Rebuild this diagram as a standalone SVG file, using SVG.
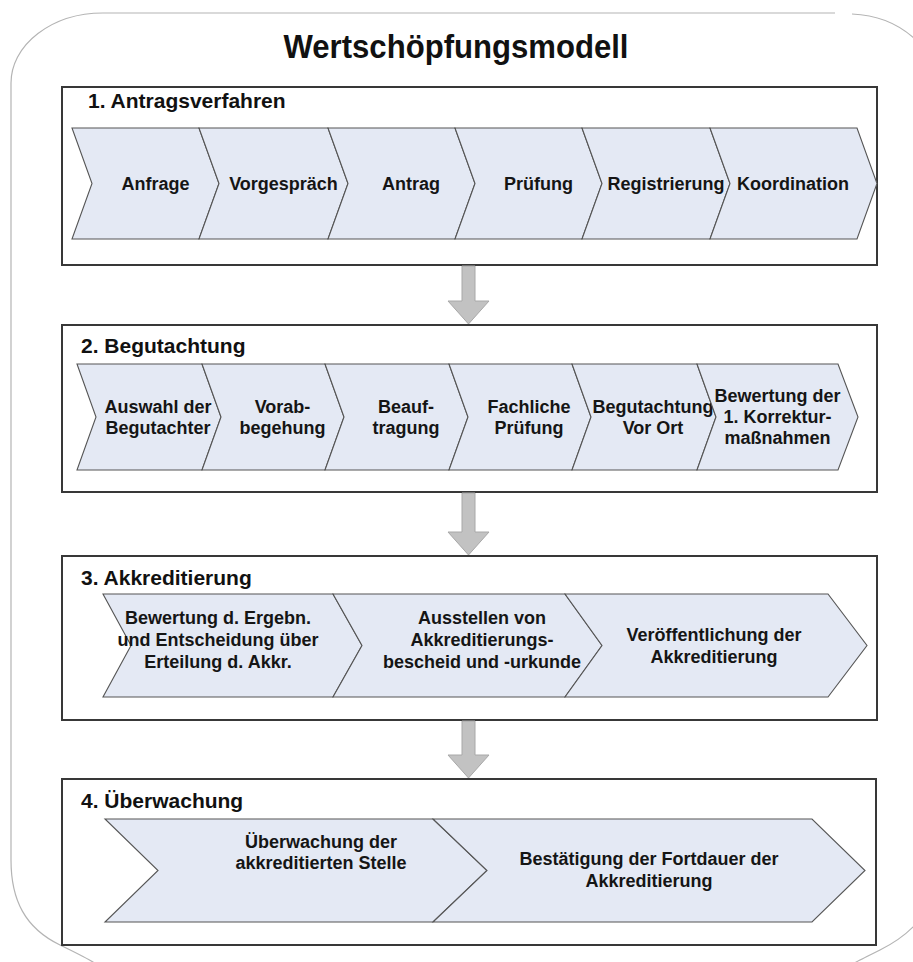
<svg xmlns="http://www.w3.org/2000/svg" width="913" height="962" viewBox="0 0 913 962">
  <style>
    .frame { fill: none; stroke: #b4b4b4; stroke-width: 1.2; }
    .panel { fill: #ffffff; stroke: #383838; stroke-width: 2; }
    .chev { fill: #e4e9f4; stroke: #555555; stroke-width: 1.1; stroke-linejoin: miter; }
    .flow { fill: #c2c2c2; stroke: #a8a8a8; stroke-width: 1; }
    .title { font-family: "Liberation Sans", Arial, sans-serif; font-weight: bold; font-size: 33px; fill: #111; text-anchor: middle; }
    .head { font-family: "Liberation Sans", Arial, sans-serif; font-weight: bold; font-size: 21px; fill: #111; }
    .t { font-family: "Liberation Sans", Arial, sans-serif; font-weight: bold; font-size: 18px; fill: #151515; text-anchor: middle; }
  </style>

  <rect width="913" height="962" fill="#ffffff"/>

  <!-- rounded outer frame -->
  <g id="frame" class="frame">
    <path d="M 11 83 A 92 70 0 0 1 103 13 L 835 13"/>
    <path d="M 852 14 A 92 80 0 0 1 940 95 L 940 860"/>
    <path d="M 11 83 L 11 860 C 11 900 25 928 60 945 S 85 958 100 966"/>
    <path d="M 940 860 C 940 900 920 930 880 950 S 860 960 850 966"/>
  </g>

  <text class="title" x="456" y="58" textLength="345" lengthAdjust="spacingAndGlyphs">Wertschöpfungsmodell</text>

  <!-- phase 1 -->
  <g id="phase1">
    <rect class="panel" x="62" y="87" width="815" height="178"/>
    <text class="head" x="88" y="108">1. Antragsverfahren</text>
    <g id="p1-anfrage">
      <polygon class="chev" points="72,128 199,128 219,183.5 199,239 72,239 92,183.5"/>
      <text class="t" x="155.5" y="190">Anfrage</text>
    </g>
    <g id="p1-vorgespraech">
      <polygon class="chev" points="199,128 328,128 348,183.5 328,239 199,239 219,183.5"/>
      <text class="t" x="283.5" y="190">Vorgespräch</text>
    </g>
    <g id="p1-antrag">
      <polygon class="chev" points="328,128 455,128 475,183.5 455,239 328,239 348,183.5"/>
      <text class="t" x="411" y="190">Antrag</text>
    </g>
    <g id="p1-pruefung">
      <polygon class="chev" points="455,128 582,128 602,183.5 582,239 455,239 475,183.5"/>
      <text class="t" x="538.5" y="190">Prüfung</text>
    </g>
    <g id="p1-registrierung">
      <polygon class="chev" points="582,128 710,128 730,183.5 710,239 582,239 602,183.5"/>
      <text class="t" x="666" y="190">Registrierung</text>
    </g>
    <g id="p1-koordination">
      <polygon class="chev" points="710,128 857,128 877,183.5 857,239 710,239 730,183.5"/>
      <text class="t" x="793" y="190">Koordination</text>
    </g>
  </g>

  <!-- phase 2 -->
  <g id="phase2">
    <rect class="panel" x="62" y="325" width="815" height="167"/>
    <text class="head" x="81" y="353">2. Begutachtung</text>
    <g id="p2-auswahl">
      <polygon class="chev" points="77,364 202,364 221,417 202,470 77,470 96,417"/>
      <text class="t" x="158" y="413">Auswahl der</text>
      <text class="t" x="158" y="434">Begutachter</text>
    </g>
    <g id="p2-vorab">
      <polygon class="chev" points="202,364 325,364 344,417 325,470 202,470 221,417"/>
      <text class="t" x="282.5" y="413">Vorab-</text>
      <text class="t" x="282.5" y="434">begehung</text>
    </g>
    <g id="p2-beauftragung">
      <polygon class="chev" points="325,364 449,364 468,417 449,470 325,470 344,417"/>
      <text class="t" x="406" y="413">Beauf-</text>
      <text class="t" x="406" y="434">tragung</text>
    </g>
    <g id="p2-fachlich">
      <polygon class="chev" points="449,364 572,364 591,417 572,470 449,470 468,417"/>
      <text class="t" x="529" y="413">Fachliche</text>
      <text class="t" x="529" y="434">Prüfung</text>
    </g>
    <g id="p2-vorort">
      <polygon class="chev" points="572,364 697,364 716,417 697,470 572,470 591,417"/>
      <text class="t" x="653" y="413">Begutachtung</text>
      <text class="t" x="653" y="434">Vor Ort</text>
    </g>
    <g id="p2-korrektur">
      <polygon class="chev" points="697,364 838,364 858,417 838,470 697,470 716,417"/>
      <text class="t" x="777.5" y="402">Bewertung der</text>
      <text class="t" x="777.5" y="423">1. Korrektur-</text>
      <text class="t" x="777.5" y="444">maßnahmen</text>
    </g>
  </g>

  <!-- phase 3 -->
  <g id="phase3">
    <rect class="panel" x="62" y="556" width="815" height="164"/>
    <text class="head" x="81" y="585">3. Akkreditierung</text>
    <g id="p3-entscheidung">
      <polygon class="chev" points="103,594 333,594 362,645.5 333,697 103,697 131,645.5"/>
      <text class="t" x="218" y="624">Bewertung d. Ergebn.</text>
      <text class="t" x="218" y="646">und Entscheidung über</text>
      <text class="t" x="218" y="668">Erteilung d. Akkr.</text>
    </g>
    <g id="p3-bescheid">
      <polygon class="chev" points="333,594 565,594 602,645.5 565,697 333,697 362,645.5"/>
      <text class="t" x="482" y="624">Ausstellen von</text>
      <text class="t" x="482" y="646">Akkreditierungs-</text>
      <text class="t" x="482" y="668">bescheid und -urkunde</text>
    </g>
    <g id="p3-veroeffentlichung">
      <polygon class="chev" points="565,594 828,594 867,645.5 828,697 565,697 602,645.5"/>
      <text class="t" x="714" y="641">Veröffentlichung der</text>
      <text class="t" x="714" y="663">Akkreditierung</text>
    </g>
  </g>

  <!-- phase 4 -->
  <g id="phase4">
    <rect class="panel" x="62" y="779" width="814" height="166"/>
    <text class="head" x="81" y="808">4. Überwachung</text>
    <g id="p4-ueberwachung">
      <polygon class="chev" points="105,819 433,819 487,870.5 433,922 105,922 158,870.5"/>
      <text class="t" x="321" y="848">Überwachung der</text>
      <text class="t" x="321" y="869">akkreditierten Stelle</text>
    </g>
    <g id="p4-fortdauer">
      <polygon class="chev" points="433,819 812,819 865,870.5 812,922 433,922 487,870.5"/>
      <text class="t" x="649" y="865">Bestätigung der Fortdauer der</text>
      <text class="t" x="649" y="887">Akkreditierung</text>
    </g>
  </g>

  <!-- transitions between phases -->
  <g id="connectors">
    <path class="flow" d="M 462 266 L 475 266 L 475 301 L 489 301 L 468.5 324 L 448 301 L 462 301 Z"/>
    <path class="flow" d="M 462 493 L 475 493 L 475 532 L 489 532 L 468.5 555 L 448 532 L 462 532 Z"/>
    <path class="flow" d="M 462 721 L 475 721 L 475 755 L 489 755 L 468.5 778 L 448 755 L 462 755 Z"/>
  </g>
</svg>
